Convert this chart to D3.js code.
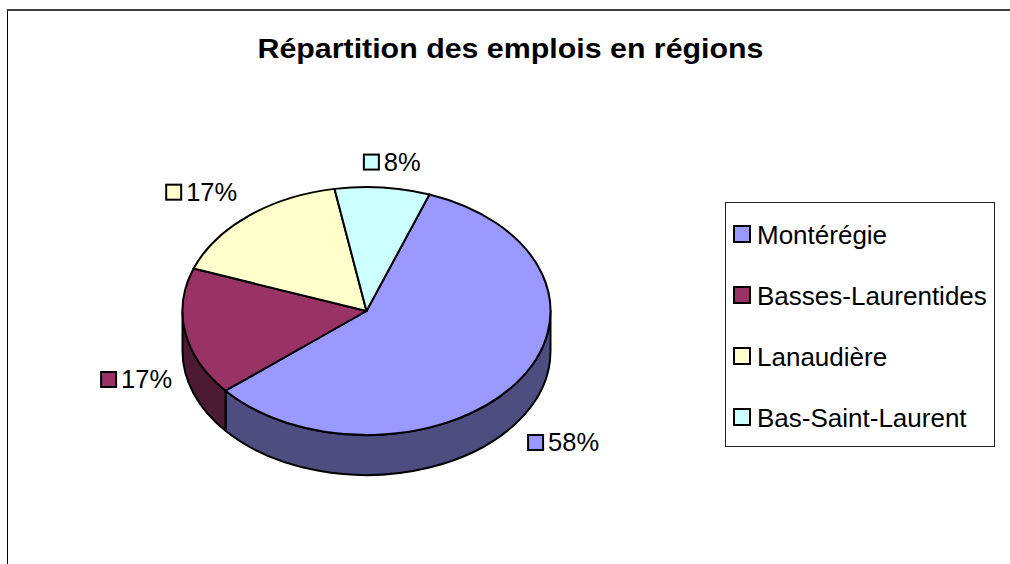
<!DOCTYPE html>
<html>
<head>
<meta charset="utf-8">
<script src="https://cdn.jsdelivr.net/npm/d3@7/dist/d3.min.js"></script>
<style>
  html, body { margin: 0; padding: 0; background: #fff; }
  svg { display: block; }
  text { font-family: "Liberation Sans", Arial, sans-serif; }
</style>
</head>
<body>
<svg id="chart" width="1010" height="564"></svg>
<script>
// ---- data ----
const title = "Répartition des emplois en régions";
const categories = ["Montérégie", "Basses-Laurentides", "Lanaudière", "Bas-Saint-Laurent"];
const values = [7, 2, 2, 1];
const topColors = ["#9999FF", "#993366", "#FFFFCC", "#CCFFFF"];
const sideColors = ["#4D4D80", "#4D1A33", "#80805F", "#668080"];
// layout tweaks for data labels (pixels)
const labelNudge = [[0, 4], [6, 2], [-11, -2], [5, 3]];

// ---- layout ----
const svg = d3.select("#chart");
const cx = 366.5, cy = 311, rx = 184, ry = 124, depth = 40;
const startDeg = 20;

// frame
svg.append("line").attr("x1", 7.5).attr("y1", 10).attr("x2", 7.5).attr("y2", 564)
  .attr("stroke", "#000").attr("stroke-width", 1);
svg.append("line").attr("x1", 7).attr("y1", 10).attr("x2", 1010).attr("y2", 10)
  .attr("stroke", "#404040").attr("stroke-width", 2);

// title
svg.append("text").attr("x", 510.5).attr("y", 58).attr("text-anchor", "middle")
  .attr("font-size", 27).attr("font-weight", "bold")
  .attr("textLength", 506).attr("lengthAdjust", "spacingAndGlyphs")
  .text(title);

const total = d3.sum(values);
const pie = d3.pie().sort(null)
  .startAngle(startDeg * Math.PI / 180)
  .endAngle(startDeg * Math.PI / 180 + 2 * Math.PI);
const arcs = pie(values);

function pt(t, off = 0) {
  return [cx + rx * Math.sin(t), cy + off - ry * Math.cos(t)];
}
function f(p) { return p[0].toFixed(2) + "," + p[1].toFixed(2); }

function sidePath(s, e) {
  const large = (e - s) > Math.PI ? 1 : 0;
  return "M" + f(pt(s)) +
    "A" + rx + "," + ry + " 0 " + large + " 1 " + f(pt(e)) +
    "L" + f(pt(e, depth)) +
    "A" + rx + "," + ry + " 0 " + large + " 0 " + f(pt(s, depth)) + "Z";
}
function topPath(s, e) {
  const large = (e - s) > Math.PI ? 1 : 0;
  return "M" + f([cx, cy]) + "L" + f(pt(s)) +
    "A" + rx + "," + ry + " 0 " + large + " 1 " + f(pt(e)) + "Z";
}

const gSide = svg.append("g");
const gTop = svg.append("g");
const visible = [[Math.PI / 2, 3 * Math.PI / 2], [5 * Math.PI / 2, 7 * Math.PI / 2]];

arcs.forEach((a, i) => {
  visible.forEach(([v0, v1]) => {
    const s = Math.max(a.startAngle, v0), e = Math.min(a.endAngle, v1);
    if (e > s + 1e-6) {
      gSide.append("path").attr("d", sidePath(s, e))
        .attr("fill", sideColors[i]).attr("stroke", "#000")
        .attr("stroke-width", 2).attr("stroke-linejoin", "round");
    }
  });
  gTop.append("path").attr("d", topPath(a.startAngle, a.endAngle))
    .attr("fill", topColors[i]).attr("stroke", "#000")
    .attr("stroke-width", 2).attr("stroke-linejoin", "round");
});

// data labels
const fmt = v => Math.round(v / total * 100) + "%";
const sq = 17, gapTxt = 4, lblFont = 25.5, gap = 20;
arcs.forEach((a, i) => {
  const m = (a.startAngle + a.endAngle) / 2;
  const sn = Math.sin(m), cs = Math.cos(m);
  const edge = pt(m, cs < 0 ? depth : 0);
  const txt = fmt(a.value);
  const tmp = svg.append("text").attr("font-size", lblFont).text(txt);
  const tw = tmp.node().getComputedTextLength();
  tmp.remove();
  const w = sq + gapTxt + tw, h = sq;
  const ccx = edge[0] + (w / 2 + gap) * sn + labelNudge[i][0];
  const ccy = edge[1] - (h / 2 + gap) * cs + labelNudge[i][1];
  const x0 = ccx - w / 2, y0 = ccy - h / 2;
  svg.append("rect").attr("x", x0 + 1).attr("y", y0 + 1)
    .attr("width", sq - 2).attr("height", sq - 2)
    .attr("fill", topColors[i]).attr("stroke", "#000").attr("stroke-width", 2);
  svg.append("text").attr("x", x0 + sq + gapTxt).attr("y", y0 + sq)
    .attr("font-size", lblFont).attr("fill", "#000").text(txt);
});

// legend
const lg = svg.append("g");
lg.append("rect").attr("x", 725.5).attr("y", 202.5).attr("width", 269).attr("height", 244)
  .attr("fill", "#fff").attr("stroke", "#222").attr("stroke-width", 1);
const ly = d3.scalePoint().domain(categories).range([234, 417]);
categories.forEach((c, i) => {
  const y = ly(c);
  lg.append("rect").attr("x", 734).attr("y", y - 8).attr("width", 16).attr("height", 16)
    .attr("fill", topColors[i]).attr("stroke", "#000").attr("stroke-width", 2);
  lg.append("text").attr("x", 757).attr("y", y + 9.5).attr("font-size", 26)
    .attr("fill", "#000").text(c);
});
</script>
</body>
</html>
